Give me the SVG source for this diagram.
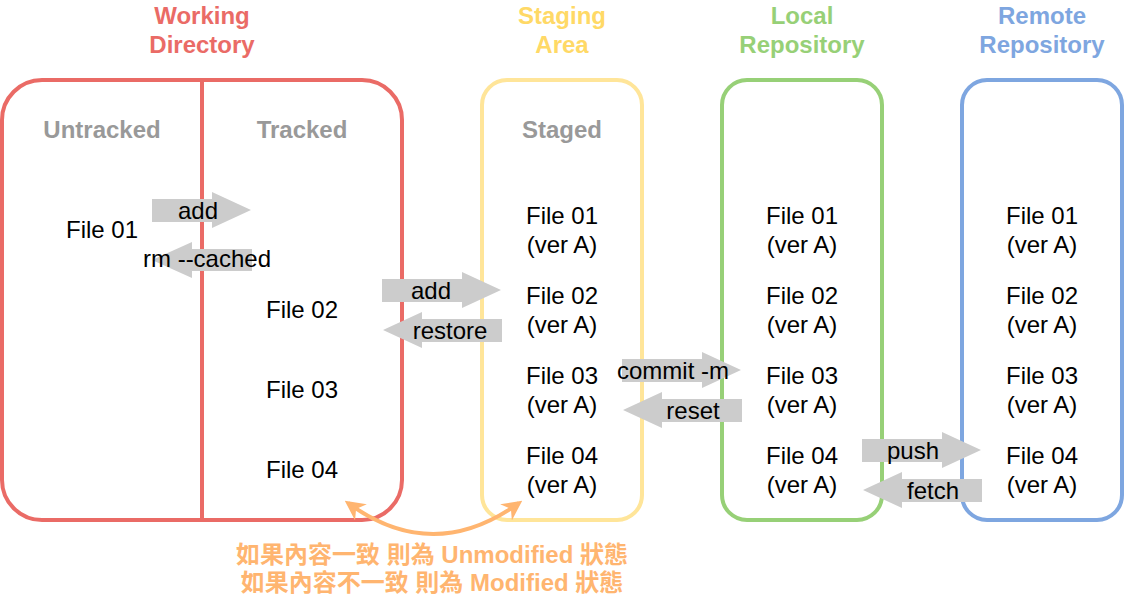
<svg xmlns="http://www.w3.org/2000/svg" width="1125" height="600" viewBox="0 0 1125 600">
<style>
text{font-family:"Liberation Sans",Arial,"Noto Sans CJK TC",sans-serif;font-size:24px;text-anchor:middle;dominant-baseline:central;transform:translateY(-1px)}
.t{font-weight:bold}
.h{font-weight:bold;fill:#999999}
.f{fill:#000}
.box{fill:none;stroke-width:4}
.arr{fill:#CCCCCC}
.o{fill:#FFB570;font-weight:bold}
</style>
<defs>
<marker id="oh" viewBox="0 0 10 10" refX="8" refY="5" markerWidth="5" markerHeight="5" orient="auto-start-reverse" markerUnits="strokeWidth">
<path d="M0,0 L10,5 L0,10 L3,5 Z" fill="#FFB570"/>
</marker>
</defs>
<g id="working">
<text class="t" x="202" y="16" fill="#EA6B66">Working</text>
<text class="t" x="202" y="45" fill="#EA6B66">Directory</text>
<rect class="box" x="2" y="80" width="400" height="440" rx="40" stroke="#EA6B66"/>
<line x1="202" y1="80" x2="202" y2="520" stroke="#EA6B66" stroke-width="4"/>
<text class="h" x="102" y="130">Untracked</text>
<text class="h" x="302" y="130">Tracked</text>
<text class="f" x="102" y="230">File 01</text>
<text class="f" x="302" y="310">File 02</text>
<text class="f" x="302" y="390">File 03</text>
<text class="f" x="302" y="470">File 04</text>
</g>
<g id="staging">
<text class="t" x="562" y="16" fill="#FFD966">Staging</text>
<text class="t" x="562" y="45" fill="#FFD966">Area</text>
<rect class="box" x="482" y="80" width="160" height="440" rx="25" stroke="#FFE599"/>
<text class="h" x="562" y="130">Staged</text>
<text class="f" x="562" y="216">File 01</text><text class="f" x="562" y="245">(ver A)</text>
<text class="f" x="562" y="296">File 02</text><text class="f" x="562" y="325">(ver A)</text>
<text class="f" x="562" y="376">File 03</text><text class="f" x="562" y="405">(ver A)</text>
<text class="f" x="562" y="456">File 04</text><text class="f" x="562" y="485">(ver A)</text>
</g>
<g id="local">
<text class="t" x="802" y="16" fill="#97D077">Local</text>
<text class="t" x="802" y="45" fill="#97D077">Repository</text>
<rect class="box" x="722" y="80" width="160" height="440" rx="25" stroke="#97D077"/>
<text class="f" x="802" y="216">File 01</text><text class="f" x="802" y="245">(ver A)</text>
<text class="f" x="802" y="296">File 02</text><text class="f" x="802" y="325">(ver A)</text>
<text class="f" x="802" y="376">File 03</text><text class="f" x="802" y="405">(ver A)</text>
<text class="f" x="802" y="456">File 04</text><text class="f" x="802" y="485">(ver A)</text>
</g>
<g id="remote">
<text class="t" x="1042" y="16" fill="#7EA6E0">Remote</text>
<text class="t" x="1042" y="45" fill="#7EA6E0">Repository</text>
<rect class="box" x="962" y="80" width="160" height="440" rx="25" stroke="#7EA6E0"/>
<text class="f" x="1042" y="216">File 01</text><text class="f" x="1042" y="245">(ver A)</text>
<text class="f" x="1042" y="296">File 02</text><text class="f" x="1042" y="325">(ver A)</text>
<text class="f" x="1042" y="376">File 03</text><text class="f" x="1042" y="405">(ver A)</text>
<text class="f" x="1042" y="456">File 04</text><text class="f" x="1042" y="485">(ver A)</text>
</g>
<g id="connectors">
<path class="arr" d="M152,199 H212 V192 L251,210 L212,228 V222 H152 Z"/>
<text class="f" x="198" y="211">add</text>
<path class="arr" d="M252,249 H192 V242 L152,260 L192,278 V271 H252 Z"/>
<text class="f" x="207" y="259">rm --cached</text>
<path class="arr" d="M382,279 H462 V272 L501,290 L462,308 V302 H382 Z"/>
<text class="f" x="431" y="291">add</text>
<path class="arr" d="M502,319 H422 V312 L383,330 L422,348 V342 H502 Z"/>
<text class="f" x="450" y="331">restore</text>
<path class="arr" d="M622,359 H702 V352 L741,370 L702,388 V382 H622 Z"/>
<text class="f" x="673" y="371">commit -m</text>
<path class="arr" d="M742,399 H662 V392 L623,410 L662,428 V422 H742 Z"/>
<text class="f" x="693" y="411">reset</text>
<path class="arr" d="M862,439 H942 V432 L981,450 L942,468 V462 H862 Z"/>
<text class="f" x="913" y="451">push</text>
<path class="arr" d="M982,479 H902 V472 L863,490 L902,508 V502 H982 Z"/>
<text class="f" x="933" y="491">fetch</text>
<path d="M348,503 Q433,565 519,503" fill="none" stroke="#FFB570" stroke-width="4" marker-start="url(#oh)" marker-end="url(#oh)"/>
</g>
<g id="note">
<text class="o" x="432" y="555">如果內容一致 則為 Unmodified 狀態</text>
<text class="o" x="432" y="583">如果內容不一致 則為 Modified 狀態</text>
</g>
</svg>
